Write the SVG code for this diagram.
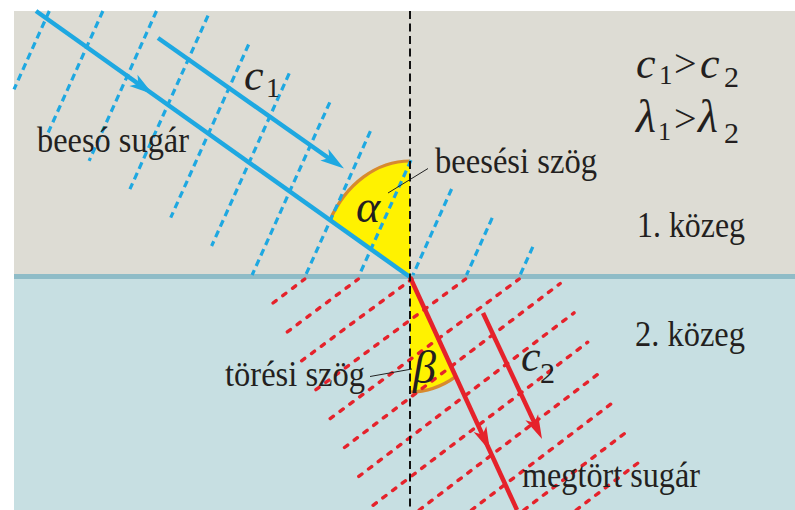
<svg xmlns="http://www.w3.org/2000/svg" xmlns:xlink="http://www.w3.org/1999/xlink" width="795" height="510" viewBox="0 0 795 510">
<defs>
<style>
.wb{fill:none;stroke:#1ea8e1;stroke-width:3.2;stroke-dasharray:7 4.5}
.wr{fill:none;stroke:#e5222b;stroke-width:3.4;stroke-linecap:round;stroke-dasharray:4 8.2}
.rb{fill:none;stroke:#1ea8e1;stroke-width:4.5}
.rr{fill:none;stroke:#e5222b;stroke-width:4.5}
.norm{fill:none;stroke:#111;stroke-width:2;stroke-dasharray:8 4.5}
.sect{fill:#fff200}
.arc{fill:none;stroke:#d88a2e;stroke-width:3.2}
.lead{fill:none;stroke:#222;stroke-width:1}
text{fill:#231f20}
.hb{fill:#1ea8e1}
.hr{fill:#e5222b}
</style>
<path id="ah" d="M0,0 L-24,-7 L-18,0 L-24,7 Z"/>
</defs>
<g id="media">
<rect x="14" y="11" width="781" height="265" fill="#dddcd4"/>
<rect x="14" y="276" width="781" height="234" fill="#c7dfe2"/>
<rect x="14" y="274" width="781" height="5" fill="#8fbcc7"/>
</g>
<g id="angles">
<path class="sect" d="M410,277 L329.9,220.1 A92,116 0 0,1 410,161 Z"/>
<path class="arc" d="M329.9,220.1 A92,116 0 0,1 410,161"/>
<path class="sect" d="M410,277 L410,392 A92,115 0 0,0 455.7,376.6 Z"/>
<path class="arc" d="M410,392 A92,115 0 0,0 455.7,376.6"/>
</g>
<g id="wavefronts-1">
<path class="wb" d="M49.3,11 L14,89.4"/>
<path class="wb" d="M102.9,11 L48.2,132.5"/>
<path class="wb" d="M156.5,11 L89.1,160.8"/>
<path class="wb" d="M208,15.6 L129.9,189.2"/>
<path class="wb" d="M248.6,44.5 L170.7,217.6"/>
<path class="wb" d="M289.2,73.4 L211.6,246"/>
<path class="wb" d="M329.8,102.3 L252.1,275"/>
<path class="wb" d="M370.4,131.2 L305.7,275"/>
<path class="wb" d="M411,160.1 L359.3,275"/>
<path class="wb" d="M451.6,189 L412.9,275"/>
<path class="wb" d="M492.2,217.9 L466.5,275"/>
<path class="wb" d="M532.8,246.9 L520.1,275"/>
</g>
<g id="wavefronts-2">
<path class="wr" d="M273,303 L304.8,279"/>
<path class="wr" d="M287.3,331.9 L358.4,279"/>
<path class="wr" d="M301.6,360.8 L412,279"/>
<path class="wr" d="M315.9,389.7 L465.6,279"/>
<path class="wr" d="M330.2,418.6 L519.2,279"/>
<path class="wr" d="M344.5,447.5 L560.2,283.5"/>
<path class="wr" d="M358.8,476.4 L574,312.9"/>
<path class="wr" d="M373.1,505.3 L587.7,342.2"/>
<path class="wr" d="M419.2,510 L601.4,371.5"/>
<path class="wr" d="M471.5,510 L615.1,400.8"/>
<path class="wr" d="M523.9,510 L628.9,430.2"/>
<path class="wr" d="M576.2,510 L642.6,459.5"/>
</g>
<g id="connectors">
<path class="rb" d="M36,11 L410,277"/>
<use xlink:href="#ah" href="#ah" class="hb" transform="translate(153,94.3) rotate(35.4)"/>
<path class="rb" d="M158,38 L330,159"/>
<use xlink:href="#ah" href="#ah" class="hb" transform="translate(344,168.5) rotate(35.2)"/>
<path class="rr" d="M410,277 L517,510"/>
<use xlink:href="#ah" href="#ah" class="hr" transform="translate(490,451) rotate(65.3)"/>
<path class="rr" d="M483,313 L536,426"/>
<use xlink:href="#ah" href="#ah" class="hr" transform="translate(542,439) rotate(64.7)"/>
<path class="norm" d="M410,11 L410,510"/>
<path class="lead" d="M428,168.5 L388,193"/>
<path class="lead" d="M370,376.5 L412,369"/>
</g>
<g id="labels" font-family="'Liberation Serif', 'DejaVu Serif', serif">
<text font-family="'Liberation Serif', 'DejaVu Serif', serif" font-size="36" x="37" y="152" textLength="152" lengthAdjust="spacingAndGlyphs">bees&#243; sug&#225;r</text>
<text font-family="'Liberation Serif', 'DejaVu Serif', serif" font-size="36" x="435" y="173" textLength="162" lengthAdjust="spacingAndGlyphs">bees&#233;si sz&#246;g</text>
<text font-family="'Liberation Serif', 'DejaVu Serif', serif" font-size="36" x="637" y="237" textLength="108" lengthAdjust="spacingAndGlyphs">1. k&#246;zeg</text>
<text font-family="'Liberation Serif', 'DejaVu Serif', serif" font-size="36" x="635" y="346" textLength="110" lengthAdjust="spacingAndGlyphs">2. k&#246;zeg</text>
<text font-family="'Liberation Serif', 'DejaVu Serif', serif" font-size="36" x="225" y="386" textLength="140" lengthAdjust="spacingAndGlyphs">t&#246;r&#233;si sz&#246;g</text>
<text font-family="'Liberation Serif', 'DejaVu Serif', serif" font-size="36" x="522" y="487" textLength="178" lengthAdjust="spacingAndGlyphs">megt&#246;rt sug&#225;r</text>
<text font-family="'Liberation Serif', 'DejaVu Serif', serif"><tspan font-style="italic" x="244" y="90" font-size="44">c</tspan><tspan x="266" y="97" font-size="28">1</tspan></text>
<text font-family="'Liberation Serif', 'DejaVu Serif', serif"><tspan font-style="italic" x="521" y="371" font-size="44">c</tspan><tspan x="540" y="383" font-size="30">2</tspan></text>
<text font-family="'Liberation Serif', 'DejaVu Serif', serif"><tspan font-style="italic" x="636" y="78" font-size="44">c</tspan><tspan x="659" y="84" font-size="27">1</tspan><tspan x="674" y="77" font-size="40">&gt;</tspan><tspan font-style="italic" x="700" y="78" font-size="44">c</tspan><tspan x="724" y="87" font-size="30">2</tspan></text>
<text font-family="'Liberation Serif', 'DejaVu Serif', serif"><tspan font-style="italic" x="636" y="132" font-size="46">&#955;</tspan><tspan x="658" y="140" font-size="26">1</tspan><tspan x="674" y="132" font-size="40">&gt;</tspan><tspan font-style="italic" x="698" y="132" font-size="46">&#955;</tspan><tspan x="724" y="143" font-size="30">2</tspan></text>
<text font-family="'Liberation Serif', 'DejaVu Serif', serif" font-style="italic" x="356" y="222" font-size="46">&#945;</text>
<text font-family="'Liberation Serif', 'DejaVu Serif', serif" font-style="italic" x="413" y="383" font-size="46">&#946;</text>
</g>
</svg>
